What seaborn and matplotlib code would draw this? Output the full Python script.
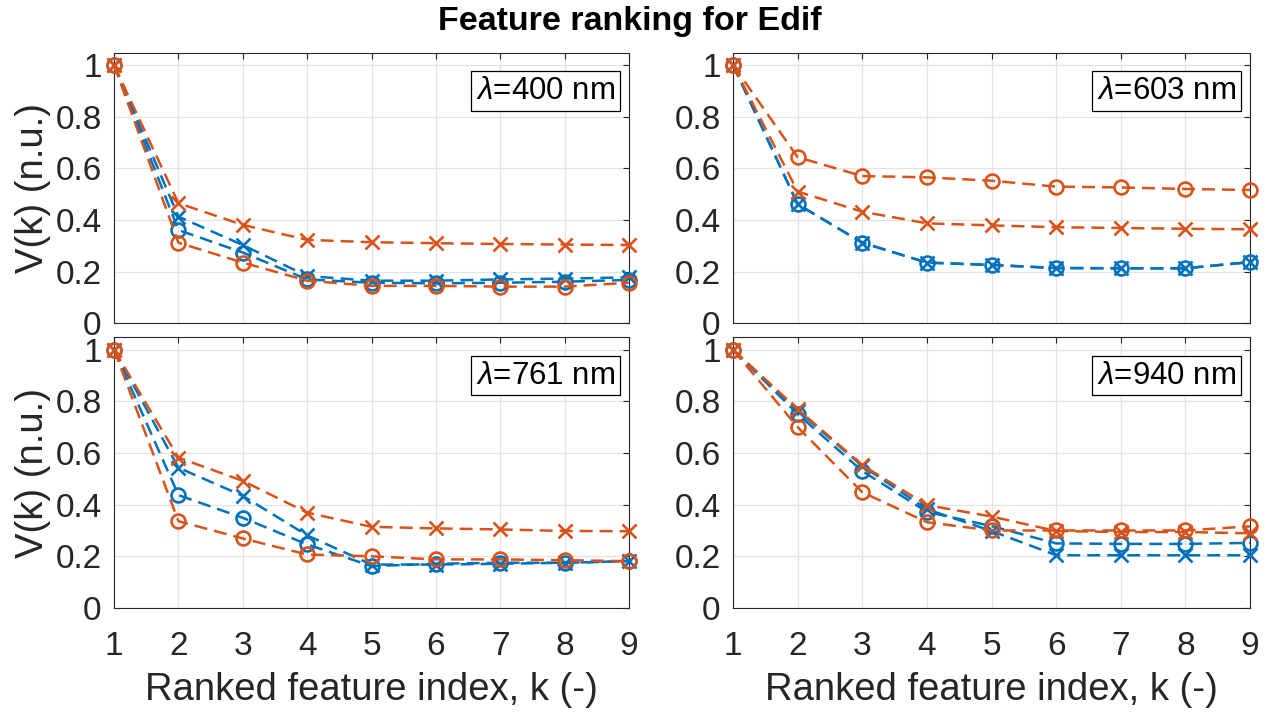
import matplotlib
matplotlib.use("Agg")
import matplotlib.pyplot as plt
import numpy as np
import pandas as pd
import seaborn as sns

# ---- data -----------------------------------------------------------------
k = [1, 2, 3, 4, 5, 6, 7, 8, 9]
wavelengths = ["400", "603", "761", "940"]

# V(k) per wavelength, four ranking curves each
blue_x = {
    "400": [1.0, 0.413, 0.303, 0.183, 0.165, 0.165, 0.170, 0.173, 0.178],
    "603": [1.0, 0.461, 0.312, 0.235, 0.226, 0.214, 0.213, 0.213, 0.237],
    "761": [1.0, 0.543, 0.434, 0.281, 0.168, 0.168, 0.171, 0.175, 0.181],
    "940": [1.0, 0.764, 0.550, 0.382, 0.298, 0.204, 0.204, 0.204, 0.204],
}
blue_o = {
    "400": [1.0, 0.361, 0.274, 0.170, 0.157, 0.155, 0.157, 0.161, 0.168],
    "603": [1.0, 0.461, 0.312, 0.235, 0.226, 0.214, 0.213, 0.213, 0.237],
    "761": [1.0, 0.437, 0.349, 0.246, 0.162, 0.171, 0.175, 0.175, 0.181],
    "940": [1.0, 0.751, 0.530, 0.372, 0.317, 0.250, 0.248, 0.248, 0.252],
}
orange_x = {
    "400": [1.0, 0.465, 0.381, 0.323, 0.314, 0.310, 0.307, 0.305, 0.303],
    "603": [1.0, 0.510, 0.432, 0.387, 0.379, 0.372, 0.369, 0.366, 0.364],
    "761": [1.0, 0.582, 0.492, 0.369, 0.314, 0.308, 0.304, 0.298, 0.297],
    "940": [1.0, 0.770, 0.553, 0.398, 0.354, 0.298, 0.294, 0.294, 0.289],
}
orange_o = {
    "400": [1.0, 0.312, 0.235, 0.165, 0.145, 0.145, 0.142, 0.142, 0.157],
    "603": [1.0, 0.643, 0.570, 0.565, 0.552, 0.529, 0.526, 0.520, 0.516],
    "761": [1.0, 0.336, 0.269, 0.207, 0.200, 0.188, 0.188, 0.185, 0.181],
    "940": [1.0, 0.700, 0.448, 0.332, 0.300, 0.300, 0.300, 0.300, 0.316],
}

y_ticks = [0, 0.2, 0.4, 0.6, 0.8, 1]
y_tick_labels = ["0", "0.2", "0.4", "0.6", "0.8", "1"]
x_tick_labels = ["1", "2", "3", "4", "5", "6", "7", "8", "9"]

title = "Feature ranking for Edif"
ylabel = "V(k) (n.u.)"
xlabel = "Ranked feature index, k (-)"

# ---- style ----------------------------------------------------------------
sns.set_theme(style="white")
plt.rcParams["font.family"] = ["Liberation Sans", "DejaVu Sans"]
plt.rcParams["mathtext.fontset"] = "custom"
plt.rcParams["mathtext.it"] = "Liberation Sans:italic"
plt.rcParams["mathtext.rm"] = "Liberation Sans"

BLUE = "#0072BD"
ORANGE = "#D95319"
INK = "#262626"
TICK_FS = 24
LABEL_FS = 27.5

fig = plt.figure(figsize=(12.7, 7.15), dpi=100)

positions = {
    "400": [0.0898, 0.5478, 0.4055, 0.3787],
    "603": [0.5772, 0.5478, 0.4071, 0.3787],
    "761": [0.0898, 0.1497, 0.4055, 0.3786],
    "940": [0.5772, 0.1497, 0.4071, 0.3786],
}

series = [
    (blue_x, BLUE, "x"),
    (blue_o, BLUE, "o"),
    (orange_x, ORANGE, "x"),
    (orange_o, ORANGE, "o"),
]

dash = (0, (5.2, 2.8))

for i, wl in enumerate(wavelengths):
    ax = fig.add_axes(positions[wl])
    for table, color, marker in series:
        df = pd.DataFrame({"k": k, "V": table[wl]})
        sns.lineplot(
            data=df, x="k", y="V", ax=ax, color=color,
            linestyle=dash, linewidth=1.8,
            marker=marker, markersize=10,
            markerfacecolor="none", markeredgecolor=color,
            markeredgewidth=1.9, estimator=None, sort=False,
            clip_on=False,
        )
    ax.set_xlim(1, 9)
    ax.set_ylim(0, 1.048)
    ax.set_xticks(k)
    ax.set_yticks(y_ticks)
    ax.set_yticklabels(y_tick_labels)
    ax.grid(True, color="#e3e3e3", linewidth=0.9)
    ax.set_axisbelow(True)
    for sp in ax.spines.values():
        sp.set_color(INK)
        sp.set_linewidth(0.8)
        sp.set_zorder(1.5)
    ax.tick_params(axis="both", which="both", direction="in", length=4,
                   width=0.8, color=INK, top=True, right=True,
                   labelsize=TICK_FS, labelcolor=INK)
    ax.tick_params(axis="y", pad=9)
    ax.tick_params(axis="x", pad=16.5)
    if i < 2:
        ax.set_xticklabels([])
        ax.set_xlabel("")
    else:
        ax.set_xticklabels(x_tick_labels)
        ax.set_xlabel(xlabel, fontsize=LABEL_FS, color=INK, labelpad=7)
    if i % 2 == 0:
        ax.set_ylabel(ylabel, fontsize=LABEL_FS, color=INK, labelpad=3)
    else:
        ax.set_ylabel("")
    ax.text(0.9728, 0.914, r"$\lambda$=" + wl + " nm", transform=ax.transAxes,
            ha="right", va="top", fontsize=22.5, color="black", zorder=5,
            bbox=dict(boxstyle="square,pad=0.15", facecolor="white",
                      edgecolor="black", linewidth=0.9))

fig.text(0.496, 0.970, title, ha="center", va="center",
         fontsize=24.5, fontweight="bold", color="black")

fig.savefig("out.png", dpi=100)
